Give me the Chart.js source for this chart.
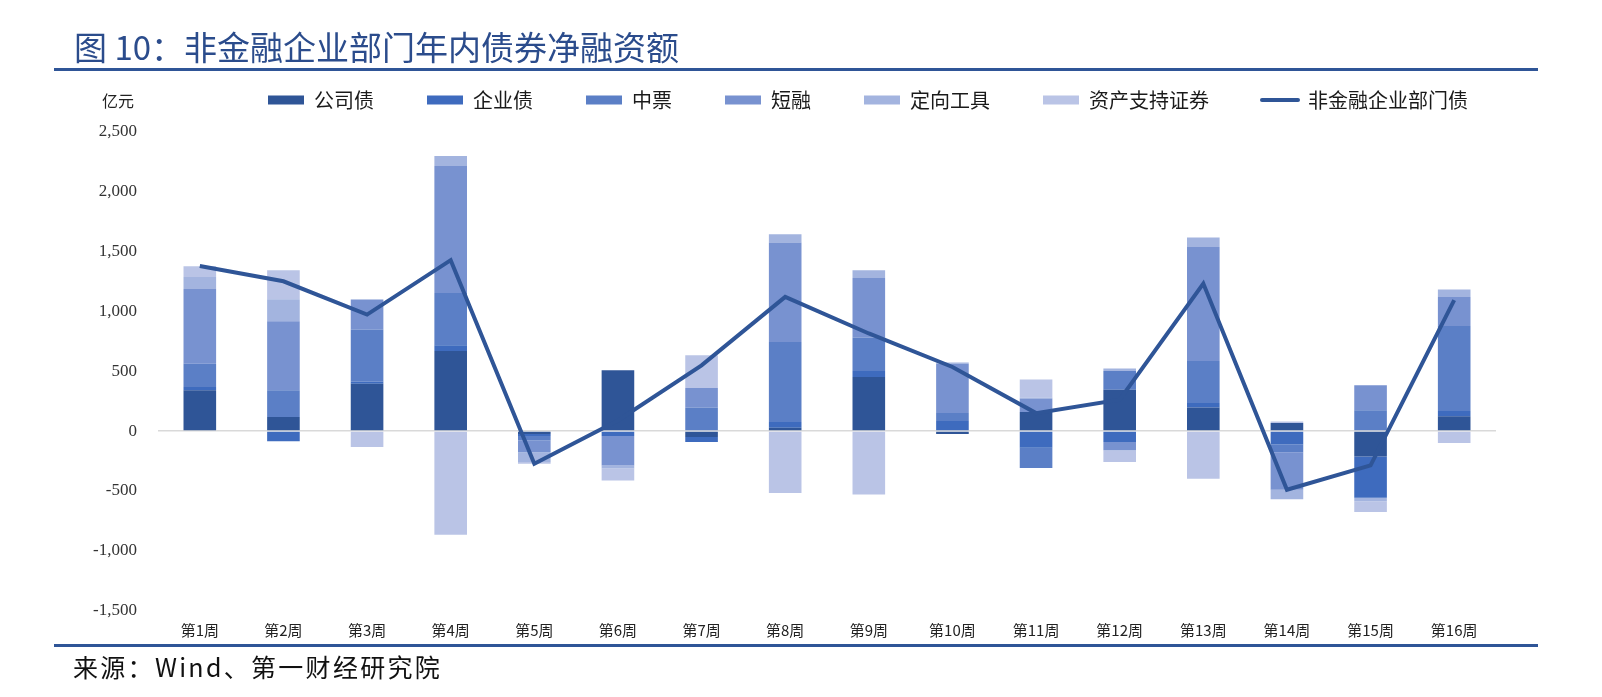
<!DOCTYPE html>
<html><head><meta charset="utf-8">
<script src="https://cdn.jsdelivr.net/npm/chart.js@4.4.1/dist/chart.umd.min.js"></script>
<style>
html,body{margin:0;padding:0;background:#fff;}
#wrap{position:relative;width:1602px;height:697px;overflow:hidden;background:#fff;}
canvas{position:absolute;left:0;top:0;}
.t{position:absolute;white-space:nowrap;font-family:"Noto Sans CJK SC",sans-serif;}
.rule{position:absolute;background:#2F5597;}
</style></head><body>
<div id="wrap">
<canvas id="c" width="1602" height="697"></canvas>
<div class="t" style="left:74px;top:28px;font-size:33px;line-height:36px;color:#2B4C8C;">图 10：非金融企业部门年内债券净融资额</div>
<div class="rule" style="left:54px;top:68px;width:1484px;height:3px;"></div>
<div class="t" style="left:102px;top:91px;font-size:16px;line-height:18px;color:#222;">亿元</div>
<div class="rule" style="left:54px;top:644px;width:1484px;height:3px;"></div>
<div class="t" style="left:73px;top:652px;font-size:25px;line-height:28px;color:#111;letter-spacing:2.3px;">来源：Wind、第一财经研究院</div>
</div>
<script>
const categories = ["第1周","第2周","第3周","第4周","第5周","第6周","第7周","第8周","第9周","第10周","第11周","第12周","第13周","第14周","第15周","第16周"];
const seriesNames = ["公司债","企业债","中票","短融","定向工具","资产支持证券","非金融企业部门债"];
const corpBond   = [340, 117, 396, 669, -25, 507, -50, 28, 452, -25, 159, 346, 196, 67, -212, 123];
const entBond    = [28, -86, 17, 47, -17, -42, -42, 47, 50, 84, -139, -92, 38, -111, -345, 44];
const mtn        = [195, 223, 435, 438, -36, 0, 196, 669, 279, 67, -170, 156, 351, -65, 173, 711];
const cp         = [624, 577, 250, 1059, -98, -245, 164, 831, 498, 412, 112, -69, 953, -314, 209, 242];
const ppn        = [100, 184, 0, 84, -83, -25, 0, 69, 65, 10, 10, 20, 79, -79, -28, 62];
const abs        = [90, 242, -134, -866, -14, -100, 273, -518, -529, 0, 150, -98, -398, 14, -90, -100];
const totalNet   = [1379, 1251, 973, 1427, -273, 89, 549, 1121, 815, 535, 150, 262, 1232, -490, -287, 1093];
const yTicks = {min: -1500, max: 2500, step: 500};

const barColors = ['#2F5597','#3E6BBE','#5B7FC6','#7892D0','#A3B4DF','#BAC4E6'];
const lineColor = '#2F5597';
const barSeries = [corpBond, entBond, mtn, cp, ppn, abs];

const datasets = barSeries.map((d, i) => ({
  type: 'bar', label: seriesNames[i], data: d, backgroundColor: barColors[i],
  borderWidth: 0, stack: 'bars', order: 1, barPercentage: 0.39, categoryPercentage: 1
}));
datasets.push({
  type: 'line', label: seriesNames[6], data: totalNet, borderColor: lineColor, backgroundColor: lineColor,
  borderWidth: 4, pointRadius: 0, pointHoverRadius: 0, fill: false, tension: 0, stack: 'line', order: 0
});

const legendPlace = {
  id: 'legendPlace',
  afterLayout(chart) {
    const lg = chart.legend; if (!lg) return;
    const w = lg.width, h = lg.height;
    lg.left = 215; lg.right = 215 + w; lg.top = 37; lg.bottom = 37 + h;
  }
};

new Chart(document.getElementById('c'), {
  data: { labels: categories, datasets },
  options: {
    responsive: false, animation: false, devicePixelRatio: 1,
    layout: { padding: { left: 20, right: 106, top: 48.7, bottom: 52.3 } },
    plugins: {
      tooltip: { enabled: false },
      legend: {
        position: 'top', align: 'start',
        labels: {
          usePointStyle: true, pointStyleWidth: 36, boxHeight: 9, padding: 53,
          font: { family: 'Noto Sans CJK SC', size: 20 }, color: '#1a1a1a',
          generateLabels(chart) {
            return chart.data.datasets.map((ds, i) => {
              const isLine = ds.type === 'line';
              return {
                text: ds.label, datasetIndex: i, hidden: false,
                fillStyle: isLine ? ds.borderColor : ds.backgroundColor,
                strokeStyle: isLine ? ds.borderColor : ds.backgroundColor,
                lineWidth: isLine ? 4 : 0, lineCap: 'round',
                pointStyle: isLine ? 'line' : 'rect', fontColor: '#1a1a1a'
              };
            });
          }
        }
      }
    },
    scales: {
      x: {
        stacked: true,
        grid: { display: false, drawTicks: false },
        border: { display: false },
        ticks: { padding: 11, color: '#222', font: { family: 'Noto Sans CJK SC', size: 15 }, maxRotation: 0, autoSkip: false },
        afterFit(s) { s.height = 34; }
      },
      y: {
        stacked: true, min: yTicks.min, max: yTicks.max,
        grid: { drawTicks: false, lineWidth: 1.5, color: c => (c.tick && c.tick.value === 0) ? '#D9D9D9' : 'rgba(0,0,0,0)' },
        border: { display: false },
        ticks: { stepSize: yTicks.step, padding: 21, color: '#333', font: { family: 'Liberation Serif', size: 17 },
          callback: v => Number(v).toLocaleString('en-US') },
        afterFit(s) { s.width = 138; }
      }
    }
  },
  plugins: [legendPlace]
});
</script>
</body></html>
